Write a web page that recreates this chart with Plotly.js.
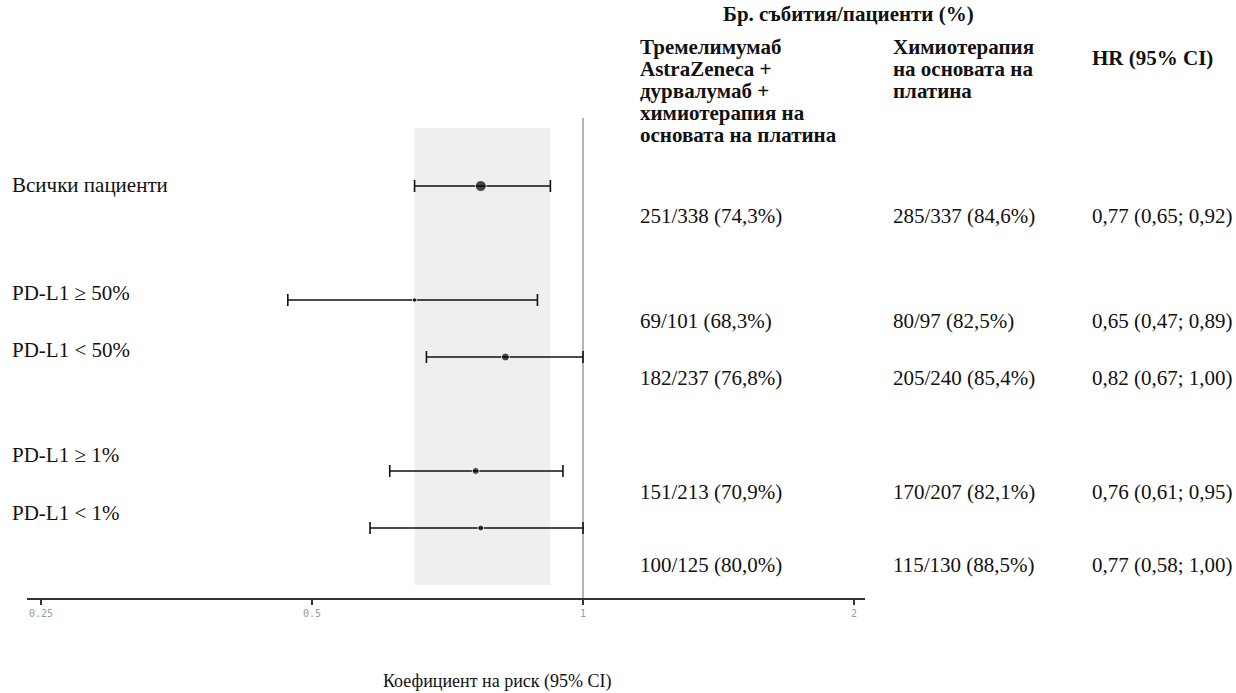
<!DOCTYPE html>
<html>
<head>
<meta charset="utf-8">
<script src="https://cdn.plot.ly/plotly-3.0.1.min.js"></script>
<style>html,body{margin:0;padding:0;background:#fff;}#chart{width:1236px;height:693px;}</style>
</head>
<body>
<div id="chart"></div>
<script>
// ---- data ----
var rowLabels = ['Всички пациенти', 'PD-L1 ≥ 50%', 'PD-L1 < 50%', 'PD-L1 ≥ 1%', 'PD-L1 < 1%'];
var hr = [0.77, 0.65, 0.82, 0.76, 0.77];
var ciLow = [0.65, 0.47, 0.67, 0.61, 0.58];
var ciHigh = [0.92, 0.89, 1.00, 0.95, 1.00];
var armTreat = ['251/338 (74,3%)', '69/101 (68,3%)', '182/237 (76,8%)', '151/213 (70,9%)', '100/125 (80,0%)'];
var armChemo = ['285/337 (84,6%)', '80/97 (82,5%)', '205/240 (85,4%)', '170/207 (82,1%)', '115/130 (88,5%)'];
var headerGroup = 'Бр. събития/пациенти (%)';
var headerTreat = ['Тремелимумаб', 'AstraZeneca +', 'дурвалумаб +', 'химиотерапия на', 'основата на платина'];
var headerChemo = ['Химиотерапия', 'на основата на', 'платина'];
var headerHR = 'HR (95% CI)';
var axisTitle = 'Коефициент на риск (95% CI)';
var tickVals = [0.25, 0.5, 1, 2];
var tickText = ['0.25', '0.5', '1', '2'];

// ---- layout positions (page pixels) ----
var pointY = [186, 300, 357, 471, 528];
var labelY = [185, 293, 350, 455, 513];
var valueY = [216, 321, 378, 492, 565];
var markerSizes = [11, 4.5, 8, 7, 6];
var L = 27, R = 865, T = 100, B = 598;
function px(x) { return (x - L) / (R - L); }
function py(y) { return (B - y) / (B - T); }
function fmt(v) { return v.toFixed(2).replace('.', ','); }

var serif = 'Liberation Serif, Times New Roman, serif';
var fs = 21;

var traces = [
  { // overall CI band
    x: [ciLow[0], ciHigh[0], ciHigh[0], ciLow[0], ciLow[0]],
    y: [128, 128, 585, 585, 128],
    type: 'scatter', mode: 'lines', fill: 'toself',
    fillcolor: '#efefef', line: { width: 0, color: 'rgba(0,0,0,0)' },
    hoverinfo: 'skip', showlegend: false
  },
  { // reference line at 1
    x: [1, 1], y: [118, 598], type: 'scatter', mode: 'lines',
    line: { color: '#8c8c8c', width: 1.3 }, hoverinfo: 'skip', showlegend: false
  },
  {
    x: hr, y: pointY, type: 'scatter', mode: 'markers',
    marker: { color: '#000', size: markerSizes },
    error_x: {
      type: 'data', symmetric: false,
      array: hr.map(function (v, i) { return ciHigh[i] - v; }),
      arrayminus: hr.map(function (v, i) { return v - ciLow[i]; }),
      color: '#111', thickness: 1.6, width: 6
    },
    showlegend: false, hoverinfo: 'x'
  }
];

var ann = [];
function addText(text, x, y, opts) {
  var a = {
    text: text, xref: 'paper', yref: 'paper', x: px(x), y: py(y),
    xanchor: 'left', yanchor: 'middle', showarrow: false, borderpad: 0,
    font: { family: serif, size: fs, color: '#111' }, align: 'left'
  };
  for (var k in opts) a[k] = opts[k];
  ann.push(a);
}
for (var i = 0; i < rowLabels.length; i++) {
  addText(rowLabels[i], 11, labelY[i]);
  addText(armTreat[i], 639, valueY[i]);
  addText(armChemo[i], 892, valueY[i]);
  addText(fmt(hr[i]) + ' (' + fmt(ciLow[i]) + '; ' + fmt(ciHigh[i]) + ')', 1091, valueY[i]);
}
var bold = { family: serif, size: 21, color: '#111' };
addText('<b>' + headerGroup + '</b>', 722, 14, { font: bold });
var hY = [47, 69, 91, 113, 135];
headerTreat.forEach(function (t, j) { addText('<b>' + t + '</b>', 639, hY[j], { font: bold }); });
headerChemo.forEach(function (t, j) { addText('<b>' + t + '</b>', 892, hY[j], { font: bold }); });
addText('<b>' + headerHR + '</b>', 1091, 58, { font: bold });
addText(axisTitle, 498, 681, { xanchor: 'center', font: { family: serif, size: 18, color: '#111' } });

var layout = {
  width: 1236, height: 693,
  margin: { l: L, r: 1236 - R, t: T, b: 693 - B, pad: 0 },
  paper_bgcolor: '#fff', plot_bgcolor: '#fff',
  xaxis: {
    type: 'log', range: [Math.log10(0.25) - 14 / 271 * Math.log10(2), Math.log10(2) + 11 / 271 * Math.log10(2)],
    tickvals: tickVals, ticktext: tickText,
    ticks: 'outside', ticklen: 5, tickwidth: 1.5, tickcolor: '#333',
    showline: true, linewidth: 2.2, linecolor: '#333',
    showgrid: false, zeroline: false,
    tickfont: { family: 'DejaVu Sans Mono, monospace', size: 10, color: '#9a9a9a' }
  },
  yaxis: { range: [B, T], visible: false, showgrid: false, zeroline: false },
  annotations: ann,
  showlegend: false
};

Plotly.newPlot('chart', traces, layout, { displayModeBar: false, staticPlot: true });
</script>
</body>
</html>
